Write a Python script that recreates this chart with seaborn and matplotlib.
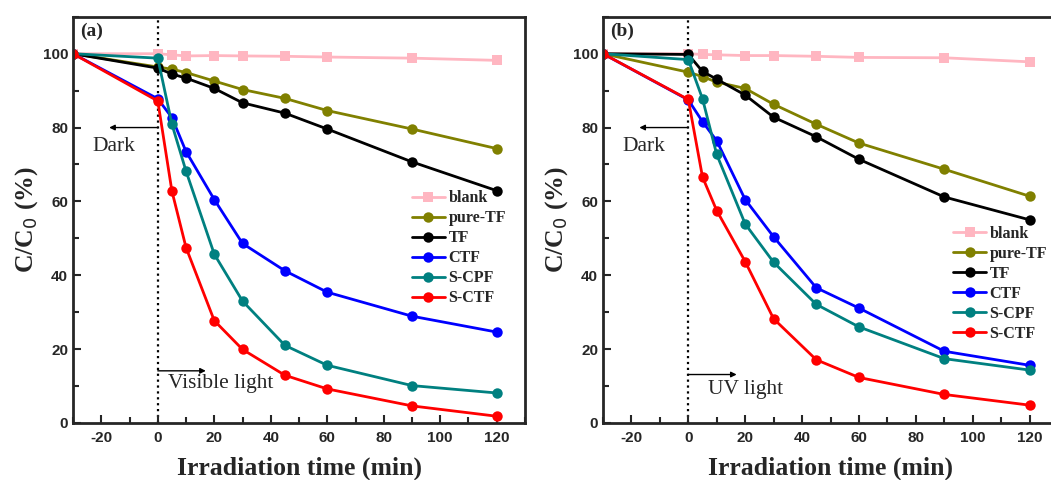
import pandas as pd
import seaborn as sns
import matplotlib
matplotlib.use("Agg")
import matplotlib.pyplot as plt
from matplotlib.ticker import MultipleLocator

sns.set_style("ticks")
plt.rcParams['font.family'] = ['Liberation Sans', 'DejaVu Sans']
plt.rcParams['axes.unicode_minus'] = False

# datos
time = [-30, 0, 5, 10, 20, 30, 45, 60, 90, 120]
samples = ["blank", "pure-TF", "TF", "CTF", "S-CPF", "S-CTF"]

# (a) luz visible
vis_blank = [100, 100, 99.7, 99.4, 99.5, 99.4, 99.3, 99.1, 98.8, 98.2]
vis_pure_tf = [100, 96.4, 95.8, 94.9, 92.6, 90.3, 87.9, 84.6, 79.6, 74.3]
vis_tf = [100, 96.1, 94.5, 93.4, 90.6, 86.7, 83.9, 79.6, 70.7, 62.9]
vis_ctf = [100, 87.8, 82.7, 73.5, 60.5, 48.6, 41.2, 35.4, 28.9, 24.6]
vis_scpf = [100, 98.8, 80.9, 68.2, 45.7, 33.0, 21.0, 15.6, 10.1, 8.1]
vis_sctf = [100, 87.2, 62.8, 47.5, 27.7, 19.9, 12.9, 9.2, 4.6, 1.8]

# (b) luz UV
uv_blank = [100, 100, 99.8, 99.7, 99.5, 99.5, 99.3, 99.0, 98.9, 97.8]
uv_pure_tf = [100, 95.0, 93.8, 92.3, 90.6, 86.3, 80.9, 75.8, 68.7, 61.4]
uv_tf = [100, 99.8, 95.2, 93.1, 88.8, 82.8, 77.5, 71.4, 61.2, 55.0]
uv_ctf = [100, 87.5, 81.6, 76.4, 60.5, 50.4, 36.6, 31.1, 19.4, 15.6]
uv_scpf = [100, 98.4, 87.8, 72.7, 53.9, 43.5, 32.1, 26.0, 17.4, 14.3]
uv_sctf = [100, 87.6, 66.6, 57.5, 43.7, 28.2, 17.1, 12.3, 7.7, 4.8]

colores = {"blank": "#ffb6c1", "pure-TF": "#808000", "TF": "black",
           "CTF": "blue", "S-CPF": "#008080", "S-CTF": "red"}
marcas = {"blank": "s", "pure-TF": "o", "TF": "o", "CTF": "o", "S-CPF": "o", "S-CTF": "o"}

def tabla(series):
    filas = []
    for nombre, valores in zip(samples, series):
        for t, v in zip(time, valores):
            filas.append({"time": t, "ratio": v, "sample": nombre})
    return pd.DataFrame(filas)

df_a = tabla([vis_blank, vis_pure_tf, vis_tf, vis_ctf, vis_scpf, vis_sctf])
df_b = tabla([uv_blank, uv_pure_tf, uv_tf, uv_ctf, uv_scpf, uv_sctf])

serif = ['Liberation Serif', 'DejaVu Serif']

fig = plt.figure(figsize=(10.51, 4.8), dpi=100)
ax_a = fig.add_axes([0.0695, 0.119, 0.430, 0.846])
ax_b = fig.add_axes([0.5737, 0.119, 0.433, 0.846])

paneles = [
    (ax_a, df_a, "(a)", "Visible light", (3.5, 9.5), 14.1, (0.735, 0.43)),
    (ax_b, df_b, "(b)", "UV light", (7.1, 7.7), 13.1, (0.755, 0.342)),
]

for ax, df, letra, luz, pos_luz, y_flecha, pos_leyenda in paneles:
    sns.lineplot(data=df, x="time", y="ratio", hue="sample", style="sample",
                 hue_order=samples, style_order=samples, palette=colores,
                 markers=marcas, dashes=False, linewidth=2, markersize=7.5,
                 markeredgewidth=0, ax=ax)
    ax.axvline(0, color="black", linestyle=":", linewidth=1.6, zorder=0)
    ax.set_xlim(-30, 130)
    ax.set_ylim(0, 110)
    ax.xaxis.set_major_locator(MultipleLocator(20))
    ax.xaxis.set_minor_locator(MultipleLocator(10))
    ax.yaxis.set_major_locator(MultipleLocator(20))
    ax.yaxis.set_minor_locator(MultipleLocator(10))
    ax.tick_params(which="both", direction="in", width=1.5, labelsize=11)
    ax.tick_params(which="major", length=6)
    ax.tick_params(which="minor", length=4)
    ax.tick_params(axis="x", pad=6)
    for lab in ax.get_xticklabels() + ax.get_yticklabels():
        lab.set_fontweight("bold")
    for s in ax.spines.values():
        s.set_linewidth(2)
    ax.set_xlabel("Irradiation time (min)", family=serif, fontsize=18.5,
                  fontweight="bold", labelpad=8)
    ax.set_ylabel("C/C$_0$ (%)", family=serif, fontsize=18.5,
                  fontweight="bold", labelpad=2)
    ax.text(0.015, 0.985, letra, transform=ax.transAxes, family=serif,
            fontsize=14, fontweight="bold", ha="left", va="top")
    # flechas de oscuridad y luz
    ax.annotate("", xy=(-17.2, 80), xytext=(0, 80),
                arrowprops=dict(arrowstyle="-|>", color="black", lw=1,
                                mutation_scale=8, shrinkA=0, shrinkB=0))
    ax.text(-23.3, 73.6, "Dark", family=serif, fontsize=15.5, va="baseline")
    ax.annotate("", xy=(17, y_flecha), xytext=(0, y_flecha),
                arrowprops=dict(arrowstyle="-|>", color="black", lw=1,
                                mutation_scale=8, shrinkA=0, shrinkB=0))
    ax.text(pos_luz[0], pos_luz[1], luz, family=serif, fontsize=15.4, va="baseline")
    sns.move_legend(ax, loc="center left", bbox_to_anchor=pos_leyenda,
                    frameon=False, title=None, handlelength=2.1,
                    handletextpad=0.2, labelspacing=0.25, borderaxespad=0,
                    prop={"family": serif, "weight": "bold", "size": 11.5})

plt.savefig("out.png", dpi=100)
